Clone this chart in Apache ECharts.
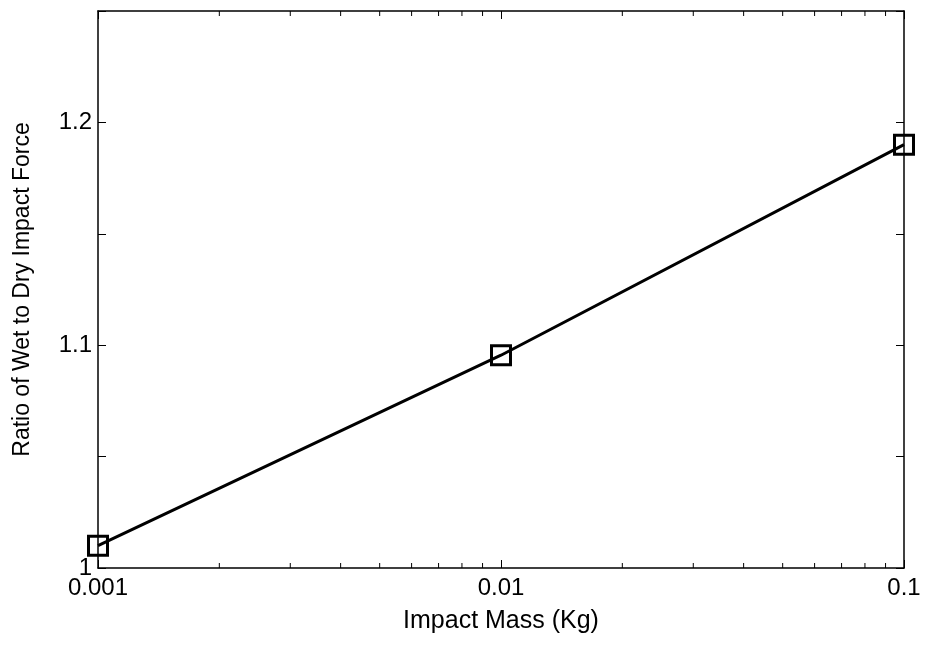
<!DOCTYPE html>
<html>
<head>
<meta charset="utf-8">
<script src="https://cdn.jsdelivr.net/npm/echarts@6/dist/echarts.min.js"></script>
<style>
  html, body { margin: 0; padding: 0; background: #fff; }
  #chart { width: 927px; height: 645px; }
</style>
</head>
<body>
<div id="chart"></div>
<script>
// impact mass (kg) vs ratio of wet to dry impact force
const massKg = [0.001, 0.01, 0.1];
const forceRatio = [1.01, 1.0955, 1.19];
// minor log ticks (2..9 of each decade)
const minorTicks = [0.002, 0.003, 0.004, 0.005, 0.006, 0.007, 0.008, 0.009,
                    0.02, 0.03, 0.04, 0.05, 0.06, 0.07, 0.08, 0.09];

const font = "'Liberation Sans', Arial, sans-serif";
const myChart = echarts.init(document.getElementById('chart'));

const fmtX = v => String(Number(v.toPrecision(3)));
const fmtY = v => {
  const t = Math.round(v * 100);
  return t % 10 === 0 ? String(t / 100) : '';
};

const option = {
  animation: false,
  backgroundColor: '#fff',
  grid: { left: 98, right: 23, top: 11, bottom: 77, show: false },
  xAxis: [{
    type: 'log',
    logBase: 10,
    min: 0.001,
    max: 0.1,
    name: 'Impact Mass (Kg)',
    nameLocation: 'middle',
    nameGap: 41,
    nameTextStyle: { fontFamily: font, fontSize: 25, color: '#000' },
    axisLine: { lineStyle: { color: '#000', width: 1.5 } },
    axisTick: { inside: true, length: 8, lineStyle: { color: '#000' } },
    axisLabel: { fontFamily: font, fontSize: 24, color: '#000', margin: 8, formatter: fmtX },
    splitLine: { show: false }
  }, {
    type: 'log',
    logBase: 10,
    min: 0.001,
    max: 0.1,
    position: 'top',
    axisLine: { lineStyle: { color: '#000', width: 1.5 } },
    axisTick: { inside: true, length: 8, lineStyle: { color: '#000' } },
    axisLabel: { show: false },
    splitLine: { show: false }
  }],
  yAxis: [{
    type: 'value',
    min: 1,
    max: 1.25,
    interval: 0.05,
    name: 'Ratio of Wet to Dry Impact Force',
    nameLocation: 'middle',
    nameGap: 64,
    nameTextStyle: { fontFamily: font, fontSize: 23, color: '#000' },
    axisLine: { show: true, lineStyle: { color: '#000', width: 1.5 } },
    axisTick: { show: true, inside: true, length: 8, lineStyle: { color: '#000' } },
    axisLabel: { fontFamily: font, fontSize: 24, color: '#000', margin: 6, formatter: fmtY },
    splitLine: { show: false }
  }, {
    type: 'value',
    min: 1,
    max: 1.25,
    interval: 0.05,
    position: 'right',
    axisLine: { show: true, lineStyle: { color: '#000', width: 1.5 } },
    axisTick: { show: true, inside: true, length: 8, lineStyle: { color: '#000' } },
    axisLabel: { show: false },
    splitLine: { show: false }
  }],
  series: [{
    type: 'custom',
    silent: true,
    xAxisIndex: 0,
    yAxisIndex: 0,
    z: 1,
    data: minorTicks.map(v => [v, 1]),
    renderItem: function (params, api) {
      const x = api.coord([api.value(0), 1])[0];
      const cs = params.coordSys;
      const style = { stroke: '#000', lineWidth: 1 };
      return {
        type: 'group',
        children: [
          { type: 'line', shape: { x1: x, y1: cs.y + cs.height, x2: x, y2: cs.y + cs.height - 5 }, style: style },
          { type: 'line', shape: { x1: x, y1: cs.y, x2: x, y2: cs.y + 5 }, style: style }
        ]
      };
    }
  }, {
    type: 'line',
    xAxisIndex: 0,
    yAxisIndex: 0,
    clip: false,
    z: 5,
    data: massKg.map((m, i) => [m, forceRatio[i]]),
    symbol: 'rect',
    symbolSize: 19,
    showAllSymbol: true,
    lineStyle: { color: '#000', width: 3 },
    itemStyle: { color: 'transparent', borderColor: '#000', borderWidth: 3 }
  }]
};

myChart.setOption(option);
</script>
</body>
</html>
